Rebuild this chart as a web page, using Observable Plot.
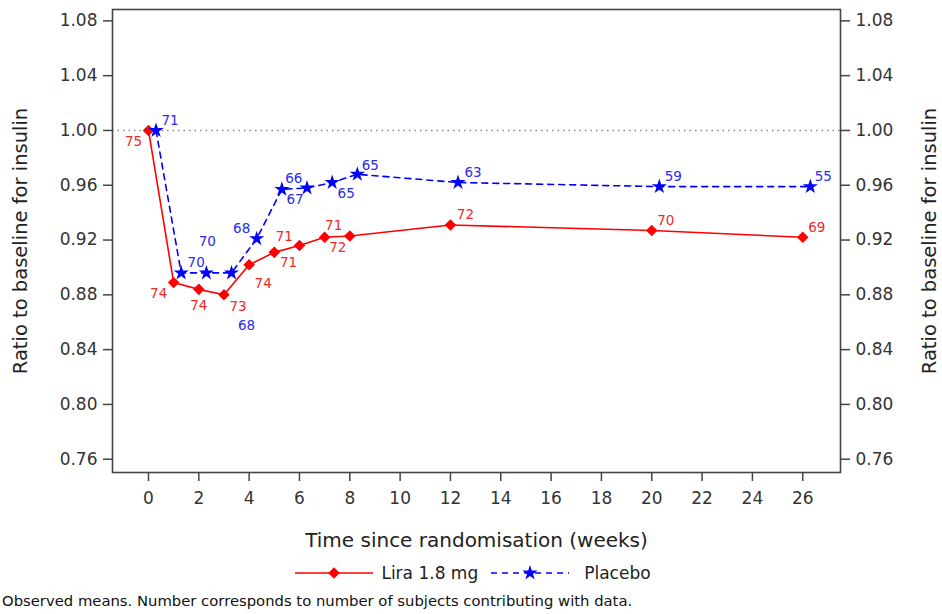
<!DOCTYPE html>
<html><head><meta charset="utf-8">
<script src="https://cdn.jsdelivr.net/npm/d3@7"></script>
<script src="https://cdn.jsdelivr.net/npm/@observablehq/plot@0.6"></script>
<style>
body{margin:0;background:#fff;font-family:"DejaVu Sans",sans-serif;}
#chart svg{display:block;}
#legend{display:flex;justify-content:center;align-items:center;height:36px;font-size:17px;color:#222;padding-left:4px;}
#legend .item{display:flex;align-items:center;}
#legend svg{display:block;}
#caption{font-size:14.8px;color:#111;padding-left:2px;margin-top:1px;white-space:nowrap;}
</style></head>
<body>
<div id="chart"></div>
<div id="legend"></div>
<div id="caption"></div>
<script>
// ---- data ----
const weeks = [0, 1, 2, 3, 4, 5, 6, 7, 8, 12, 20, 26];
const liraRatio = [1.000, 0.889, 0.884, 0.880, 0.902, 0.911, 0.916, 0.922, 0.923, 0.931, 0.927, 0.922];
const liraN = [75, 74, 74, 73, 74, 71, 71, 71, 72, 72, 70, 69];
const placeboRatio = [1.000, 0.896, 0.896, 0.896, 0.921, 0.957, 0.958, 0.962, 0.968, 0.962, 0.959, 0.959];
const placeboN = [71, 70, 70, 68, 68, 66, 67, 65, 65, 63, 59, 55];
const seriesNames = ["Lira 1.8 mg", "Placebo"];
const yTicks = [0.76, 0.80, 0.84, 0.88, 0.92, 0.96, 1.00, 1.04, 1.08];
const xTicks = [0, 2, 4, 6, 8, 10, 12, 14, 16, 18, 20, 22, 24, 26];
const baseline = [1.00];
const xTitle = "Time since randomisation (weeks)";
const yTitle = "Ratio to baseline for insulin";
const captionText = "Observed means. Number corresponds to number of subjects contributing with data.";

// ---- layout / style (not data) ----
const placeboShift = 0.3; // cluster offset of placebo group on x
const liraLabelOffset = [[-15,11],[-15,11],[0,16],[14,12],[14,19],[10,-16],[-11,17],[9,-12],[-12,12],[15,-10],[14,-10],[14,-10]];
const placeboLabelOffset = [[14,-10],[15,-10],[1,-31],[15,53],[-15,-10],[12,-11],[-12,12],[14,11],[13,-9],[15,-10],[14,-10],[13,-10]];
const RED = "#ff0000", BLUE = "#0000ff";
const RED_T = "#f02828", BLUE_T = "#2a2af0";
const DIAMOND_R = 5.2, STAR_R = 4.8;

const lira = weeks.map((w, i) => ({week: w, ratio: liraRatio[i], n: liraN[i]}));
const placebo = weeks.map((w, i) => ({week: w + placeboShift, ratio: placeboRatio[i], n: placeboN[i]}));

const labelMarks = (rows, offs, color) => rows.map((d, i) => Plot.text([d], {
  x: "week", y: "ratio", text: d => String(d.n),
  dx: offs[i][0], dy: offs[i][1], fill: color, fontSize: 13.5,
  textAnchor: "middle", lineAnchor: "middle"
}));

const chart = Plot.plot({
  width: 942, height: 555,
  marginTop: 9, marginBottom: 83, marginLeft: 112, marginRight: 102,
  style: {fontFamily: "DejaVu Sans, sans-serif", background: "#fff", color: "#333"},
  x: {domain: [-1.43, 27.5]},
  y: {domain: [0.7503, 1.0883]},
  marks: [
    Plot.ruleY(baseline, {stroke: "#888", strokeWidth: 1.5, strokeDasharray: "1.5,4"}),
    Plot.line(lira, {x: "week", y: "ratio", stroke: RED, strokeWidth: 1.6}),
    Plot.line(placebo, {x: "week", y: "ratio", stroke: BLUE, strokeWidth: 1.6, strokeDasharray: "6,5"}),
    Plot.dot(lira, {x: "week", y: "ratio", symbol: "diamond2", r: DIAMOND_R, fill: RED, stroke: "none"}),
    Plot.dot(placebo, {x: "week", y: "ratio", symbol: "star", r: STAR_R, fill: BLUE, stroke: "none"}),
    ...labelMarks(lira, liraLabelOffset, RED_T),
    ...labelMarks(placebo, placeboLabelOffset, BLUE_T),
    Plot.frame({stroke: "#444", strokeWidth: 1.6}),
    Plot.axisY({anchor: "left", ticks: yTicks, tickFormat: d3.format(".2f"), tickSize: 9, tickPadding: 6, fontSize: 17, label: null, stroke: "#444", strokeWidth: 1.5}),
    Plot.axisY({anchor: "right", ticks: yTicks, tickFormat: d3.format(".2f"), tickSize: 9, tickPadding: 6, fontSize: 17, label: null, stroke: "#444", strokeWidth: 1.5}),
    Plot.axisX({anchor: "bottom", ticks: xTicks, tickFormat: d => String(d), tickSize: 9, tickPadding: 10, fontSize: 17, label: null, stroke: "#444", strokeWidth: 1.5}),
    Plot.text([xTitle], {frameAnchor: "bottom", dy: 68, text: d => d, fontSize: 20, fill: "#222", lineAnchor: "middle"}),
    Plot.text([yTitle], {frameAnchor: "left", dx: -92, rotate: -90, text: d => d, fontSize: 19.5, fill: "#222", lineAnchor: "middle", textAnchor: "middle"}),
    Plot.text([yTitle], {frameAnchor: "right", dx: 89, rotate: -90, text: d => d, fontSize: 19.5, fill: "#222", lineAnchor: "middle", textAnchor: "middle"})
  ]
});
document.getElementById("chart").append(chart);

// ---- legend ----
function swatch(color, dash, symbolType, size) {
  const w = 78, h = 16;
  const s = d3.create("svg").attr("width", w).attr("height", h);
  s.append("line").attr("x1", 0).attr("x2", w).attr("y1", h/2).attr("y2", h/2)
    .attr("stroke", color).attr("stroke-width", 1.6).attr("stroke-dasharray", dash);
  s.append("path").attr("transform", `translate(${w/2},${h/2})`)
    .attr("d", d3.symbol(symbolType, size)()).attr("fill", color);
  return s.node();
}
const legend = document.getElementById("legend");
[[seriesNames[0], RED, null, d3.symbolDiamond2, Math.PI*DIAMOND_R*DIAMOND_R],
 [seriesNames[1], BLUE, "6,5", d3.symbolStar, Math.PI*STAR_R*STAR_R]].forEach(([name, c, dash, sym, sz], i) => {
  const item = document.createElement("div");
  item.className = "item";
  item.style.marginRight = i === 0 ? "13px" : "0";
  item.append(swatch(c, dash, sym, sz));
  const t = document.createElement("span");
  t.textContent = name;
  t.style.marginLeft = i === 0 ? "8px" : "15px";
  item.append(t);
  legend.append(item);
});
document.getElementById("caption").textContent = captionText;
</script>
</body></html>
